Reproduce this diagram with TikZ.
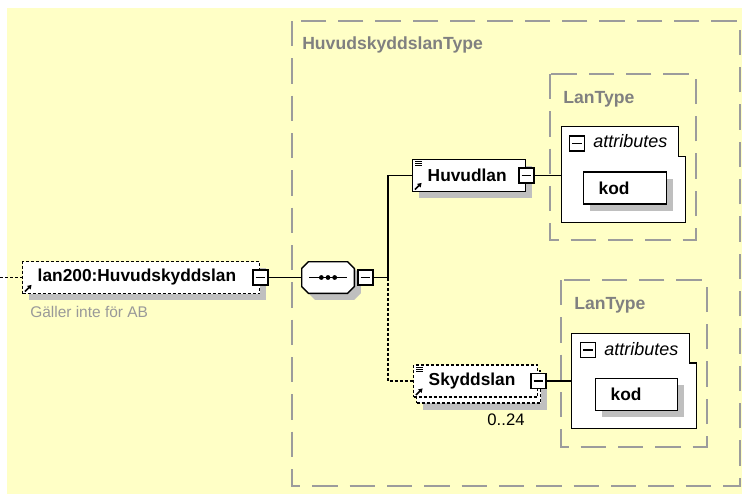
\documentclass[tikz,border=0pt]{standalone}
\usepackage{fontspec}
\setmainfont{Liberation Sans}
\usetikzlibrary{positioning, arrows.meta, shadows}
\definecolor{fondo}{HTML}{FFFFC6}
\definecolor{gris}{HTML}{9C9C9C}
\tikzset{
  arco/.style={line width=1pt},
  opcional/.style={dash pattern=on 2.25pt off 1.5pt},
  sombra/.style={general shadow={fill=black!25, shadow xshift=5pt, shadow yshift=-5pt}},
  caja/.style={draw, fill=white, line width=1.1pt, anchor=west, align=left,
    inner xsep=11.25pt, inner ysep=0pt, minimum height=24pt,
    font=\fontsize{13}{15}\selectfont\bfseries},
  menos/.style={draw, fill=white, line width=1pt, minimum size=11.25pt, inner sep=0pt,
    path picture={\draw[line width=1pt] ([xshift=2pt]path picture bounding box.west)
      -- ([xshift=-2pt]path picture bounding box.east);}},
  grupo/.style={draw=gris, line width=1.2pt, dash pattern=on 19pt off 9pt},
  titulo/.style={anchor=base west, inner sep=0pt, text=gray,
    font=\fontsize{13.2}{15}\selectfont\bfseries},
  attr/.style={anchor=base west, inner sep=0pt, font=\fontsize{13.5}{15}\selectfont\itshape},
  flecha/.style={line width=1.2pt, -{Triangle[length=3pt, width=3.6pt]}},
  lineas/.style={line width=0.6pt}
}
\begin{document}
\begin{tikzpicture}[x=0.75pt, y=-0.75pt]
  \useasboundingbox (0,0) rectangle (742,494);
  \fill[fondo] (7,8) rectangle (742,494);

  % tipos
  \draw[grupo] (292,21) rectangle (740,486);
  \node[titulo] (t0) at (302,49.5) {HuvudskyddslanType};
  \draw[grupo] (550,74) rectangle (696,240);
  \node[titulo] (t1) at (563,103) {LanType};
  \draw[grupo] (561,280) rectangle (707,447);
  \node[titulo] (t2) at (574,309) {LanType};

  % element
  \coordinate (0) at (0,277.5);
  \node[caja, opcional, sombra, text width=155.25pt] (1) at (22,277.5) {lan200:Huvudskyddslan};
  \node[menos] (1m) at (1.east) {};
  \draw[flecha] ([shift={(2.2pt,2pt)}]1.south west) -- ++(5pt,5pt);
  \node[anchor=base west, inner sep=0pt, text=black!40, font=\fontsize{11.6}{13}\selectfont]
    (1n) at (30,317.5) {Gäller inte för AB};

  % sequence
  \node[minimum width=39pt, minimum height=23.25pt, inner sep=0pt] (2) at (328,277.5) {};
  \foreach \d/\c in {5pt/black!25, 0pt/white} {
    \filldraw[fill=\c, draw=black, line width=1.1pt, draw opacity={\d==0 ? 1 : 0},
      transform canvas={shift={(\d,-\d)}}]
      ([xshift=5pt]2.north west) -- ([xshift=-5pt]2.north east)
      -- ([yshift=-5pt]2.north east) -- ([yshift=5pt]2.south east)
      -- ([xshift=-5pt]2.south east) -- ([xshift=5pt]2.south west)
      -- ([yshift=5pt]2.south west) -- ([yshift=-5pt]2.north west) -- cycle;
  }
  \draw[arco] ([xshift=5.5pt]2.west) -- ([xshift=-5.5pt]2.east);
  \fill (2.center) circle (1.8pt) ++(-5pt,0) circle (1.8pt) ++(10pt,0) circle (1.8pt);
  \node[menos, right=2.25pt of 2] (2m) {};

  \node[caja, sombra, text width=62.25pt] (3) at (412,175.5) {Huvudlan};
  \node[menos] (3m) at (3.east) {};

  \node[caja, opcional, sombra, text width=70.5pt] (4b) at (416,387) {};
  \node[caja, opcional, text width=70.5pt] (4) at (413,381) {Skyddslan};
  \node[menos] (4m) at (4.east) {};
  \node[inner sep=0pt, font=\fontsize{12.5}{14}\selectfont] (4n) at (506,420) {0..24};

  \foreach \n in {3,4} {
    \draw[lineas] ([shift={(2.5pt,-2pt)}]\n.north west) -- ++(5pt,0)
      ++(-5pt,-1.6pt) -- ++(5pt,0) ++(-5pt,-1.6pt) -- ++(5pt,0);
    \draw[flecha] ([shift={(2.2pt,2pt)}]\n.south west) -- ++(5pt,5pt);
  }

  % attributes
  \node[minimum width=92.25pt, minimum height=71.25pt] (5) at (623.5,174.5) {};
  \filldraw[fill=white, line width=1.1pt] (5.north west) -- ([xshift=-5.25pt]5.north east)
    -- ([shift={(-5.25pt,-22.5pt)}]5.north east) -- ([yshift=-22.5pt]5.north east)
    -- (5.south east) -- (5.south west) -- cycle;
  \node[menos] (5m) at (577,143.5) {};
  \node[attr] (5t) at (593,147) {attributes};
  \node[caja, sombra, text width=39.75pt] (6) at (583,188) {kod};

  \node[minimum width=93pt, minimum height=70.5pt] (7) at (634,381) {};
  \filldraw[fill=white, line width=1.1pt] (7.north west) -- ([xshift=-5.25pt]7.north east)
    -- ([shift={(-5.25pt,-22pt)}]7.north east) -- ([yshift=-22pt]7.north east)
    -- (7.south east) -- (7.south west) -- cycle;
  \node[menos] (7m) at (588,350) {};
  \node[attr] (7t) at (604,355) {attributes};
  \node[caja, sombra, text width=39pt] (8) at (595,394.5) {kod};

  % conexiones
  \coordinate (r) at (388,277.5);
  \draw[arco, opcional] (0) -- (1);
  \draw[arco] (1m) -- (2);
  \draw[arco] (2m) -- (r) |- (3);
  \draw[arco, opcional] (r) |- (4);
  \draw[arco] (3m) -- (3m -| 5.west);
  \draw[arco] (4m) -- (4m -| 7.west);
\end{tikzpicture}
\end{document}
